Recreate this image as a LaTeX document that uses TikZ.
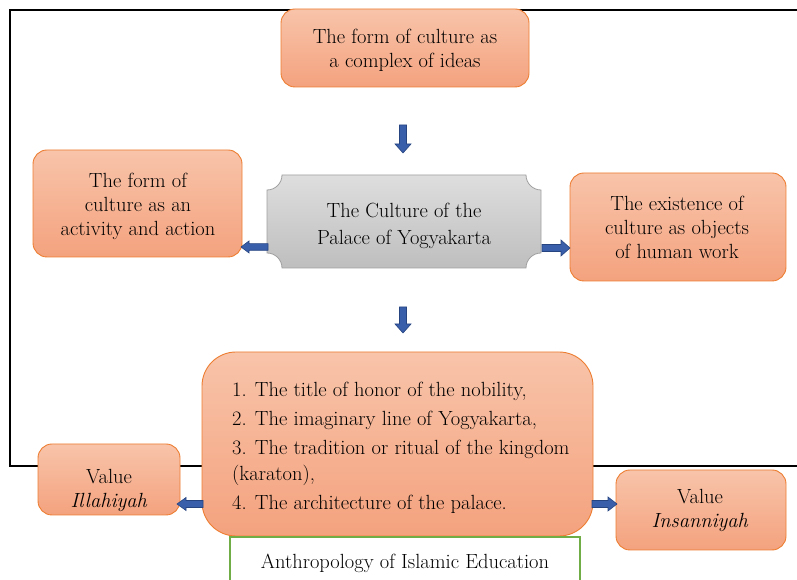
\documentclass[tikz,border=0pt]{standalone}
\usepackage{fontspec}
\definecolor{orfillA}{RGB}{248,196,170}
\definecolor{orfillB}{RGB}{244,162,126}
\definecolor{orline}{RGB}{237,125,49}
\definecolor{grA}{RGB}{222,222,222}
\definecolor{grB}{RGB}{190,190,190}
\definecolor{grline}{RGB}{160,160,160}
\definecolor{arrfill}{RGB}{58,95,170}
\definecolor{arrline}{RGB}{38,68,128}
\definecolor{greenline}{RGB}{112,173,71}
\tikzset{
  obox/.style={draw=orline, line width=0.9pt, top color=orfillA, bottom color=orfillB,
    rounded corners=14pt, inner sep=0pt},
  txt/.style={align=center, inner sep=0pt, font=\fontsize{20.5}{24}\selectfont},
  barr/.style={fill=arrfill, draw=arrline, line width=0.6pt},
  pics/blockarr/.style args={#1/#2/#3/#4}{code={
    \path[barr] (0,-#2) -- (#1-#4,-#2) -- (#1-#4,-#3) -- (#1,0) -- (#1-#4,#3) -- (#1-#4,#2) -- (0,#2) -- cycle;}}
}
\begin{document}
\begin{tikzpicture}[x=1pt,y=1pt]
\useasboundingbox (0,0) rectangle (797,580);
\clip (0,0) rectangle (797,580);
% frame
\coordinate (fr1) at (10,114);
\coordinate (fr2) at (820,570);
\draw[black, line width=2.8pt] (fr1) rectangle (fr2);

% top box
\node[obox, minimum width=248pt, minimum height=78pt] (ideas) at (405,532) {};
\node[txt] (ideasT) at (405,530) {The form of culture as\\a complex of ideas};

% left box
\node[obox, minimum width=209pt, minimum height=107pt] (act) at (137.5,376.5) {};
\node[txt] (actT) at (138,373.5) {The form of\\culture as an\\activity and action};

% right box
\node[obox, minimum width=216pt, minimum height=108pt] (obj) at (678,353) {};
\node[txt] (objT) at (677,353) {The existence of\\culture as objects\\of human work};

% center plaque
\node[minimum width=274pt, minimum height=93pt, inner sep=0pt] (pal) at (404,358.5) {};
\path[draw=grline, line width=0.8pt, top color=grA, bottom color=grB]
  (282,405) -- (526,405) arc[start angle=180, end angle=270, radius=15pt]
  -- (541,327) arc[start angle=90, end angle=180, radius=15pt]
  -- (282,312) arc[start angle=0, end angle=90, radius=15pt]
  -- (267,390) arc[start angle=-90, end angle=0, radius=15pt] -- cycle;
\node[txt] (palT) at (404,354) {The Culture of the\\[3pt]Palace of Yogyakarta};

% big box
\node[obox, rounded corners=34pt, minimum width=391pt, minimum height=184pt] (list) at (397.5,136) {};
\node[inner sep=0pt, anchor=west, align=left, font=\fontsize{20.5}{24}\selectfont] (listT) at (232,132)
  {1. The title of honor of the nobility,\\[5pt]
   2. The imaginary line of Yogyakarta,\\[5pt]
   3. The tradition or ritual of the kingdom\\[2pt]
   (karaton),\\[5pt]
   4. The architecture of the palace.};

% value boxes
\node[obox, minimum width=142pt, minimum height=71pt] (ill) at (109,100.5) {};
\node[txt] (illT) at (109,90) {Value\\\textit{Illahiyah}};
\node[obox, minimum width=170pt, minimum height=80pt] (ins) at (701,70) {};
\node[txt] (insT) at (700,69.5) {Value\\\textit{Insanniyah}};

% anthropology box
\node[draw=greenline, line width=2pt, fill=white, minimum width=350pt, minimum height=50pt, inner sep=0pt] (anth) at (405,18) {};
\node[txt] (anthT) at (405,17) {Anthropology of Islamic Education};

% block arrows
\pic[rotate=-90] (d1) at (403,455) {blockarr=28/3.5/8/9};
\pic[rotate=-90] (d2) at (403,273) {blockarr=26/3.5/8/9};
\pic[rotate=180] (l1) at (268,333) {blockarr=27/3.3/6/8};
\pic (r1) at (542,332) {blockarr=28/3.5/8/9};
\pic[rotate=180] (l2) at (203,76) {blockarr=26/3.5/6.5/9};
\pic (r2) at (592,76) {blockarr=25/3.5/7/9};
\end{tikzpicture}
\end{document}
